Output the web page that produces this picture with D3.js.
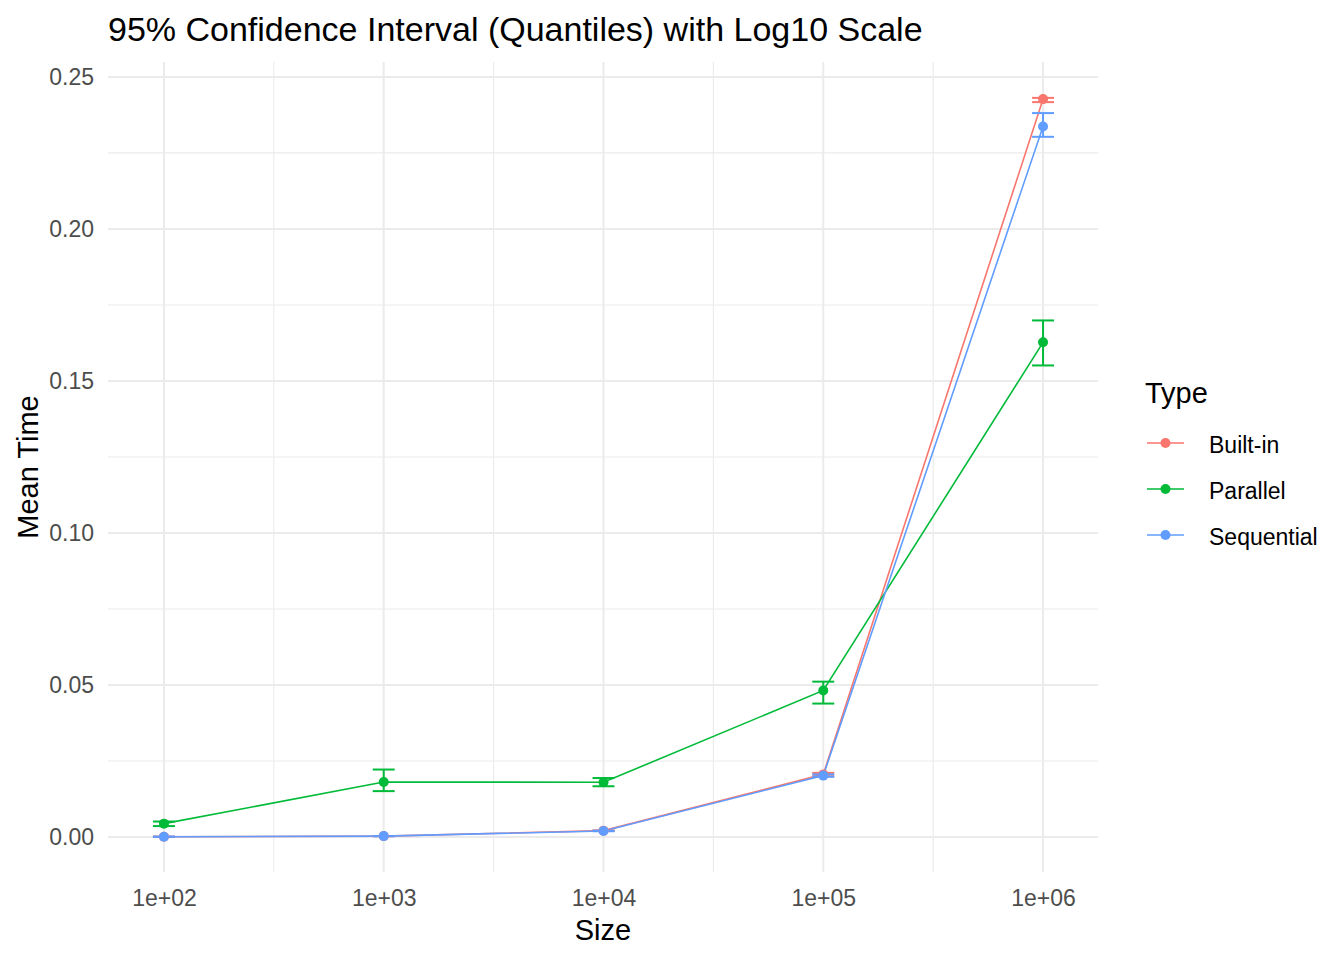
<!DOCTYPE html>
<html>
<head>
<meta charset="utf-8">
<style>
body { margin: 0; background: #fff; }
svg text { font-family: "Liberation Sans", Arial, sans-serif; }
.axisX text, .axisY text { fill: #4D4D4D; font-size: 23px; }
.grid line { stroke: #EBEBEB; }
</style>
</head>
<body>
<div id="chart"></div>
<script src="https://cdn.jsdelivr.net/npm/d3@7"></script>
<script>

// values
const sizes = [1e2, 1e3, 1e4, 1e5, 1e6];
const types = ['Built-in', 'Parallel', 'Sequential'];

const builtinMean = [0.0001, 0.0003, 0.0021, 0.0206, 0.2427];
const builtinLow  = [0.0001, 0.0003, 0.0020, 0.0200, 0.2417];
const builtinHigh = [0.0001, 0.0003, 0.0022, 0.0211, 0.2431];

const parallelMean = [0.0044, 0.0181, 0.0180, 0.0482, 0.1627];
const parallelLow  = [0.0036, 0.0151, 0.0167, 0.0439, 0.1551];
const parallelHigh = [0.0051, 0.0222, 0.0194, 0.0511, 0.1699];

const sequentialMean = [0.0001, 0.0003, 0.0020, 0.0202, 0.2337];
const sequentialLow  = [0.0001, 0.0003, 0.0019, 0.0198, 0.2303];
const sequentialHigh = [0.0001, 0.0003, 0.0021, 0.0206, 0.2381];

const yTicks = [0, 0.05, 0.10, 0.15, 0.20, 0.25];
const yMinor = [0.025, 0.075, 0.125, 0.175, 0.225];
const xMinor = [Math.pow(10, 2.5), Math.pow(10, 3.5), Math.pow(10, 4.5), Math.pow(10, 5.5)];

const colors = ['#F8766D', '#00BA38', '#619CFF'];

const series = [
    { type: types[0], mean: builtinMean, low: builtinLow, high: builtinHigh },
    { type: types[1], mean: parallelMean, low: parallelLow, high: parallelHigh },
    { type: types[2], mean: sequentialMean, low: sequentialLow, high: sequentialHigh }
];

const width = 1344, height = 960;
const panel = { left: 108, right: 1098, top: 62, bottom: 872 };

const svg = d3.select('#chart')
    .append('svg')
        .attr('width', width)
        .attr('height', height);

const x = d3.scaleLog()
    .domain([Math.pow(10, 1.7455), Math.pow(10, 6.25)])
    .range([panel.left, panel.right]);

const y = d3.scaleLinear()
    .domain([-0.0115, 0.2549])
    .range([panel.bottom, panel.top]);

const color = d3.scaleOrdinal().domain(types).range(colors);

// grid
const grid = svg.append('g').attr('class', 'grid');

grid.selectAll('.ymin').data(yMinor).enter().append('line')
    .attr('x1', panel.left).attr('x2', panel.right)
    .attr('y1', d => y(d)).attr('y2', d => y(d))
    .attr('stroke-width', 1.1);

grid.selectAll('.xmin').data(xMinor).enter().append('line')
    .attr('y1', panel.top).attr('y2', panel.bottom)
    .attr('x1', d => x(d)).attr('x2', d => x(d))
    .attr('stroke-width', 1.1);

grid.selectAll('.ymaj').data(yTicks).enter().append('line')
    .attr('x1', panel.left).attr('x2', panel.right)
    .attr('y1', d => y(d)).attr('y2', d => y(d))
    .attr('stroke-width', 2);

grid.selectAll('.xmaj').data(sizes).enter().append('line')
    .attr('y1', panel.top).attr('y2', panel.bottom)
    .attr('x1', d => x(d)).attr('x2', d => x(d))
    .attr('stroke-width', 2);

// axes
const xAxis = d3.axisBottom(x)
    .tickValues(sizes)
    .tickSize(0)
    .tickPadding(18)
    .tickFormat(d => '1e+' + d3.format('02d')(Math.round(Math.log10(d))));

const yAxis = d3.axisLeft(y)
    .tickValues(yTicks)
    .tickSize(0)
    .tickPadding(14)
    .tickFormat(d3.format('.2f'));

svg.append('g')
    .attr('class', 'axisX')
    .attr('transform', 'translate(0,' + panel.bottom + ')')
    .call(xAxis)
    .call(g => g.select('.domain').remove());

svg.append('g')
    .attr('class', 'axisY')
    .attr('transform', 'translate(' + panel.left + ',0)')
    .call(yAxis)
    .call(g => g.select('.domain').remove());

// marks
const line = d3.line()
    .x((d, i) => x(sizes[i]))
    .y(d => y(d));

const capHalf = 0.05; // error bar width in log10 units

series.forEach(s => {
    svg.append('path')
        .datum(s.mean)
        .attr('fill', 'none')
        .attr('stroke', color(s.type))
        .attr('stroke-width', 1.6)
        .attr('d', line);
});

series.forEach(s => {
    const g = svg.append('g')
        .attr('stroke', color(s.type))
        .attr('stroke-width', 2)
        .attr('fill', 'none');
    sizes.forEach((sz, i) => {
        const xl = x(sz * Math.pow(10, -capHalf)), xr = x(sz * Math.pow(10, capHalf));
        g.append('line').attr('x1', x(sz)).attr('x2', x(sz))
            .attr('y1', y(s.low[i])).attr('y2', y(s.high[i]));
        g.append('line').attr('x1', xl).attr('x2', xr)
            .attr('y1', y(s.low[i])).attr('y2', y(s.low[i]));
        g.append('line').attr('x1', xl).attr('x2', xr)
            .attr('y1', y(s.high[i])).attr('y2', y(s.high[i]));
    });
});

series.forEach(s => {
    svg.append('g').selectAll('circle')
        .data(s.mean)
        .enter().append('circle')
            .attr('cx', (d, i) => x(sizes[i]))
            .attr('cy', d => y(d))
            .attr('r', 5)
            .attr('fill', color(s.type));
});

// titles
svg.append('text')
    .attr('x', panel.left)
    .attr('y', 41)
    .attr('font-size', 34)
    .text('95% Confidence Interval (Quantiles) with Log10 Scale');

svg.append('text')
    .attr('x', (panel.left + panel.right) / 2)
    .attr('y', 940)
    .attr('text-anchor', 'middle')
    .attr('font-size', 29)
    .text('Size');

svg.append('text')
    .attr('transform', 'translate(38,' + (panel.top + panel.bottom) / 2 + ') rotate(-90)')
    .attr('text-anchor', 'middle')
    .attr('font-size', 29)
    .text('Mean Time');

// legend
const legend = svg.append('g').attr('transform', 'translate(1145,0)');

legend.append('text')
    .attr('x', 0)
    .attr('y', 403)
    .attr('font-size', 29)
    .text('Type');

const items = legend.selectAll('.item')
    .data(types)
    .enter().append('g')
        .attr('transform', (d, i) => 'translate(0,' + (443 + i * 46) + ')');

items.append('line')
    .attr('x1', 2).attr('x2', 39)
    .attr('stroke', d => color(d))
    .attr('stroke-width', 1.6);

items.append('circle')
    .attr('cx', 20.5)
    .attr('r', 5)
    .attr('fill', d => color(d));

items.append('text')
    .attr('x', 64)
    .attr('y', 10)
    .attr('font-size', 23)
    .text(d => d);

</script>
</body>
</html>
